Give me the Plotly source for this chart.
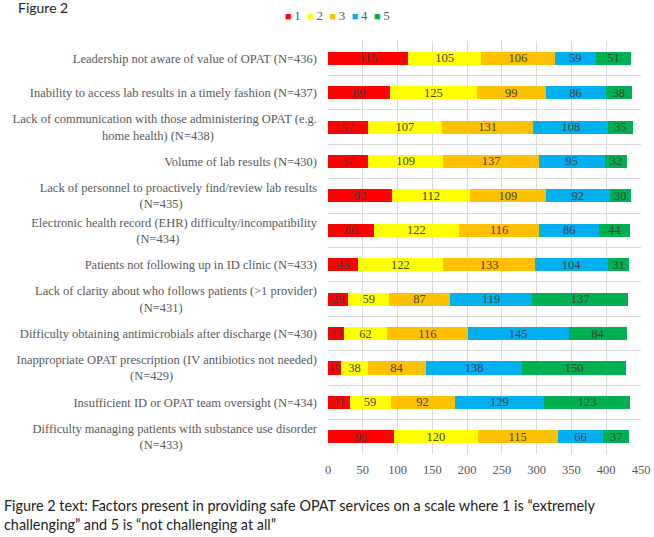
import plotly.graph_objects as go

factors = [
    "Leadership not aware of value of OPAT (N=436)",
    "Inability to access lab results in a timely fashion (N=437)",
    "Lack of communication with those administering OPAT (e.g.|home health) (N=438)",
    "Volume of lab results (N=430)",
    "Lack of personnel to proactively find/review lab results|(N=435)",
    "Electronic health record (EHR) difficulty/incompatibility|(N=434)",
    "Patients not following up in ID clinic (N=433)",
    "Lack of clarity about who follows patients (>1 provider)|(N=431)",
    "Difficulty obtaining antimicrobials after discharge (N=430)",
    "Inappropriate OPAT prescription (IV antibiotics not needed)|(N=429)",
    "Insufficient ID or OPAT team oversight (N=434)",
    "Difficulty managing patients with substance use disorder|(N=433)",
]

series_names = ["1", "2", "3", "4", "5"]
series_colors = ["#FF0000", "#FFFF00", "#FFC000", "#00B0F0", "#00B050"]

s1 = [115, 89, 57, 57, 92, 66, 43, 29, 23, 19, 31, 95]
s2 = [105, 125, 107, 109, 112, 122, 122, 59, 62, 38, 59, 120]
s3 = [106, 99, 131, 137, 109, 116, 133, 87, 116, 84, 92, 115]
s4 = [59, 86, 108, 95, 92, 86, 104, 119, 145, 138, 129, 66]
s5 = [51, 38, 35, 32, 30, 44, 31, 137, 84, 150, 123, 37]
series_values = [s1, s2, s3, s4, s5]

x_ticks = [0, 50, 100, 150, 200, 250, 300, 350, 400, 450]

caption = ("Figure 2 text: Factors present in providing safe OPAT services on a scale where 1 is \u201cextremely"
           "<br>challenging\u201d and 5 is \u201cnot challenging at all\u201d")


def make_label(s):
    # two-line labels: second line roughly centred under the first (labels are right-aligned)
    if "|" not in s:
        return s
    a, b = s.split("|")
    pad = int(round((len(a) - len(b)) * 5.6 / 2 / 3.25))
    return (a + "<br>" + b + '<span style="color:rgba(0,0,0,0)">'
            + "\u00a0" * pad + ".</span>")


labels = [make_label(f) for f in factors]

serif = "Liberation Serif"
fig = go.Figure()
for name, color, vals in zip(series_names, series_colors, series_values):
    fig.add_trace(go.Bar(
        y=labels, x=vals, name=name, orientation="h",
        marker=dict(color=color, line=dict(width=0)),
        text=[str(v) for v in vals], textposition="inside", textangle=0,
        insidetextanchor="middle", constraintext="none",
        textfont=dict(family=serif, size=12.5, color="#404040"),
        showlegend=False,
    ))

legend_text = "\u2002".join(
    '<span style="color:%s;font-size:11px">\u25a0</span>\u2009%s' % (c, n)
    for n, c in zip(series_names, series_colors)
)

fig.update_layout(
    width=654, height=537,
    margin=dict(l=328, r=13, t=41, b=83, autoexpand=False),
    barmode="stack", bargap=0.62,
    paper_bgcolor="white", plot_bgcolor="white",
    font=dict(family=serif, size=12, color="#595959"),
    uniformtext=dict(minsize=12, mode="show"),
    title=dict(text="Figure 2", x=18 / 654, xref="container", xanchor="left",
               y=1 - 8 / 537, yref="container", yanchor="middle",
               font=dict(family="Lato", size=14, color="#222222")),
    xaxis=dict(range=[0, 450], tickvals=x_ticks, showgrid=True, gridcolor="#d9d9d9",
               gridwidth=1, zeroline=False, showline=False, ticks="", automargin=False,
               tickfont=dict(family=serif, size=12.5, color="#595959"),
               ticklabelstandoff=6),
    yaxis=dict(type="category", autorange="reversed", tickson="boundaries",
               showgrid=True, gridcolor="#d9d9d9", gridwidth=1, ticks="", automargin=False,
               showline=False, zeroline=False, ticklabelstandoff=10,
               tickfont=dict(family=serif, size=12.5, color="#595959")),
    annotations=[
        dict(text=legend_text, xref="paper", yref="paper", x=(337.5 - 328) / 313,
             y=1 + (41 - 15) / 413, xanchor="center", yanchor="middle", showarrow=False,
             font=dict(family=serif, size=13, color="#595959")),
        dict(text=caption, xref="paper", yref="paper", x=(2 - 328) / 313,
             y=(454 - 495) / 413, xanchor="left", yanchor="top", align="left",
             showarrow=False, font=dict(family="Lato", size=14.4, color="#222222")),
    ],
)

fig.write_html("out.html")
